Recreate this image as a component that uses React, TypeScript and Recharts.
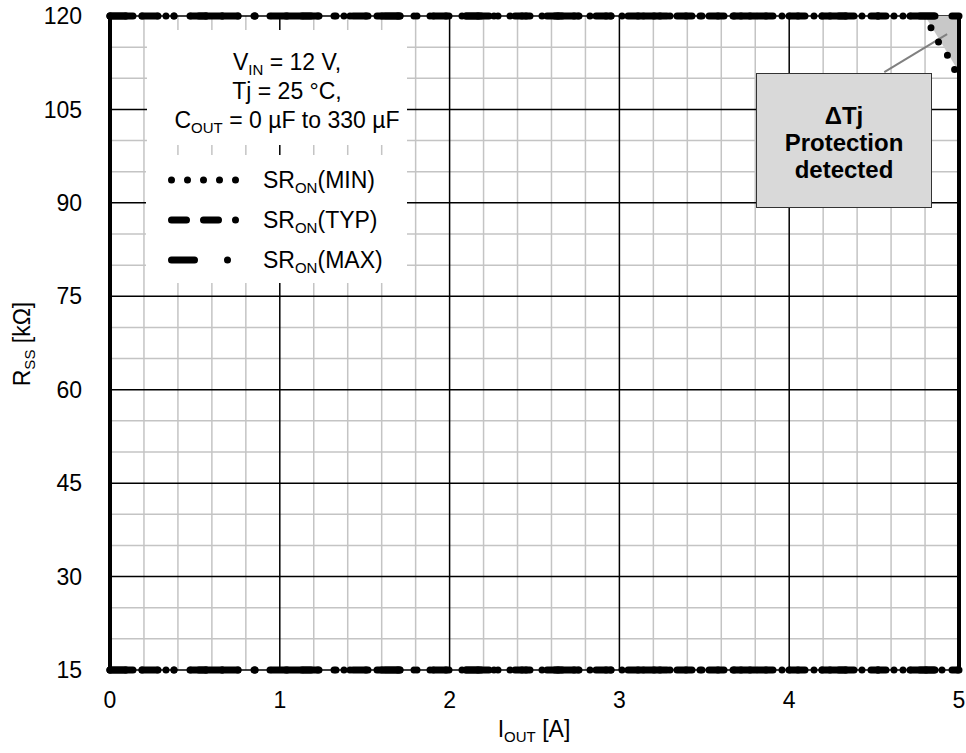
import React from 'react';
import {
  ComposedChart,
  Line,
  Area,
  XAxis,
  YAxis,
  CartesianGrid,
  ReferenceLine,
  Legend,
  Label,
} from 'recharts';

const FONT = '"Liberation Sans", Arial, sans-serif';

// axis ticks
const xTicks = [0, 1, 2, 3, 4, 5];
const yTicks = [15, 30, 45, 60, 75, 90, 105, 120];
const minorXTicks = [0.2, 0.4, 0.6, 0.8, 1.2, 1.4, 1.6, 1.8, 2.2, 2.4, 2.6, 2.8, 3.2, 3.4, 3.6, 3.8, 4.2, 4.4, 4.6, 4.8];
const minorYTicks = [20, 25, 35, 40, 50, 55, 65, 70, 80, 85, 95, 100, 110, 115];

// series (I_OUT [A] -> R_SS [kOhm])
const minUpper = [
  { x: 0, y: 120 },
  { x: 4.8, y: 120 },
];
const minCorner = [
  { x: 4.835, y: 118.1 },
  { x: 4.88, y: 115.8 },
  { x: 4.93, y: 113.8 },
  { x: 4.976, y: 111.3 },
];
const typUpper = [
  { x: 0, y: 120 },
  { x: 5, y: 120 },
];
const maxUpper = [
  { x: 0, y: 120 },
  { x: 5, y: 120 },
];
const minLower = [
  { x: 0, y: 15 },
  { x: 5, y: 15 },
];
const typLower = [
  { x: 0, y: 15 },
  { x: 5, y: 15 },
];
const maxLower = [
  { x: 0, y: 15 },
  { x: 5, y: 15 },
];
// ΔTj protection region (top-right corner)
const protectionZone = [
  { x: 4.8, y: 120 },
  { x: 5, y: 111 },
];

const DASH_MIN = '0 16';
const DASH_TYP = '15 17 15 17 0 17';
const DASH_MAX = '23 33 0 33';
const LW = 7;

const legendItems = [
  { name: 'MIN', dash: DASH_MIN },
  { name: 'TYP', dash: DASH_TYP },
  { name: 'MAX', dash: DASH_MAX },
];

const subStyle: React.CSSProperties = { fontSize: 15, verticalAlign: -5, lineHeight: 0 };

function LegendBox() {
  return (
    <div
      style={{
        width: 261,
        height: 128,
        background: '#fff',
        fontFamily: FONT,
        fontSize: 23,
        color: '#000',
        boxSizing: 'border-box',
        paddingTop: 5,
      }}
    >
      {legendItems.map((it) => (
        <div key={it.name} style={{ display: 'flex', alignItems: 'center', height: 40 }}>
          <svg width={80} height={12} style={{ marginLeft: 18, flex: 'none' }}>
            <line x1={7.5} y1={6} x2={73} y2={6} stroke="#000" strokeWidth={LW} strokeDasharray={it.dash} strokeLinecap="round" />
          </svg>
          <span style={{ marginLeft: 19, whiteSpace: 'nowrap' }}>
            SR<sub style={subStyle}>ON</sub>({it.name})
          </span>
        </div>
      ))}
    </div>
  );
}

const YTick = (p: any) => (
  <text x={82} y={p.y} dy="0.355em" textAnchor="end" fontFamily={FONT} fontSize={23} fill="#000">
    {p.payload.value}
  </text>
);

const XTick = (p: any) => (
  <text x={p.x} y={708} textAnchor="middle" fontFamily={FONT} fontSize={23} fill="#000">
    {p.payload.value}
  </text>
);

export default function App() {
  return (
    <div style={{ position: 'absolute', left: 0, top: 0, width: 966, height: 753, background: '#fff' }}>
      <ComposedChart width={966} height={753} margin={{ top: 16, right: 7, left: 50, bottom: 43 }}>
        <CartesianGrid
          stroke="#c4c4c4"
          strokeWidth={1.5}
          verticalValues={minorXTicks}
          horizontalValues={minorYTicks}
        />
        <CartesianGrid stroke="#000" strokeWidth={1.5} />
        <XAxis
          type="number"
          dataKey="x"
          domain={[0, 5]}
          ticks={xTicks}
          axisLine={false}
          tickLine={false}
          height={40}
          tick={<XTick />}
        >
          <Label
            content={() => (
              <text x={534} y={737} textAnchor="middle" fontFamily={FONT} fontSize={23} fill="#000">
                I<tspan fontSize={15} dy={5}>OUT</tspan>
                <tspan dy={-5}> [A]</tspan>
              </text>
            )}
          />
        </XAxis>
        <YAxis
          type="number"
          domain={[15, 120]}
          ticks={yTicks}
          width={60}
          axisLine={{ stroke: '#000', strokeWidth: 4 }}
          tickLine={false}
          tick={<YTick />}
        >
          <Label
            content={() => (
              <text
                x={0}
                y={0}
                transform="translate(30,344) rotate(-90)"
                textAnchor="middle"
                fontFamily={FONT}
                fontSize={23}
                fill="#000"
              >
                R<tspan fontSize={15} dy={5}>SS</tspan>
                <tspan dy={-5}> [kΩ]</tspan>
              </text>
            )}
          />
        </YAxis>

        <Area
          data={protectionZone}
          dataKey="y"
          type="linear"
          baseValue={120}
          fill="#c8c8c8"
          fillOpacity={1}
          stroke="none"
          isAnimationActive={false}
          legendType="none"
        />
        <ReferenceLine x={5} stroke="#000" strokeWidth={4} />
        <ReferenceLine
          segment={[
            { x: 4.56, y: 111.0 },
            { x: 4.93, y: 117.1 },
          ]}
          stroke="#808080"
          strokeWidth={2}
        />

        <Line data={maxUpper} dataKey="y" name="SR_ON(MAX)" stroke="#000" strokeWidth={LW} strokeDasharray={DASH_MAX} strokeLinecap="round" dot={false} isAnimationActive={false} />
        <Line data={typUpper} dataKey="y" name="SR_ON(TYP)" stroke="#000" strokeWidth={LW} strokeDasharray={DASH_TYP} strokeLinecap="round" dot={false} isAnimationActive={false} />
        <Line data={minUpper} dataKey="y" name="SR_ON(MIN)" stroke="#000" strokeWidth={LW} strokeDasharray={DASH_MIN} strokeLinecap="round" dot={false} isAnimationActive={false} />
        <Line data={minCorner} dataKey="y" stroke="#000" strokeWidth={LW} strokeDasharray={DASH_MIN} strokeLinecap="round" dot={false} isAnimationActive={false} legendType="none" />
        <Line data={maxLower} dataKey="y" stroke="#000" strokeWidth={LW} strokeDasharray={DASH_MAX} strokeLinecap="round" dot={false} isAnimationActive={false} legendType="none" />
        <Line data={typLower} dataKey="y" stroke="#000" strokeWidth={LW} strokeDasharray={DASH_TYP} strokeLinecap="round" dot={false} isAnimationActive={false} legendType="none" />
        <Line data={minLower} dataKey="y" stroke="#000" strokeWidth={LW} strokeDasharray={DASH_MIN} strokeLinecap="round" dot={false} isAnimationActive={false} legendType="none" />

        <Legend
          layout="vertical"
          align="center"
          verticalAlign="middle"
          content={() => <LegendBox />}
          wrapperStyle={{ left: 146, top: 155, width: 261, height: 128 }}
        />
      </ComposedChart>

      {/* conditions text box */}
      <div
        style={{
          position: 'absolute',
          left: 147,
          top: 30,
          width: 260,
          height: 115,
          background: '#fff',
          fontFamily: FONT,
          fontSize: 23,
          color: '#000',
          textAlign: 'center',
          lineHeight: '29px',
          paddingTop: 18,
          paddingLeft: 20,
          boxSizing: 'border-box',
          whiteSpace: 'nowrap',
        }}
      >
        <div>
          V<sub style={subStyle}>IN</sub> = 12 V,
        </div>
        <div>Tj = 25 °C,</div>
        <div>
          C<sub style={subStyle}>OUT</sub> = 0 µF to 330 µF
        </div>
      </div>

      {/* annotation */}
      <div
        style={{
          position: 'absolute',
          left: 756,
          top: 73,
          width: 176,
          height: 135,
          background: '#d9d9d9',
          border: '1.5px solid #333',
          boxSizing: 'border-box',
          fontFamily: FONT,
          fontSize: 24,
          fontWeight: 'bold',
          color: '#000',
          textAlign: 'center',
          lineHeight: '27px',
          paddingTop: 28,
        }}
      >
        <div>ΔTj</div>
        <div>Protection</div>
        <div>detected</div>
      </div>
    </div>
  );
}
